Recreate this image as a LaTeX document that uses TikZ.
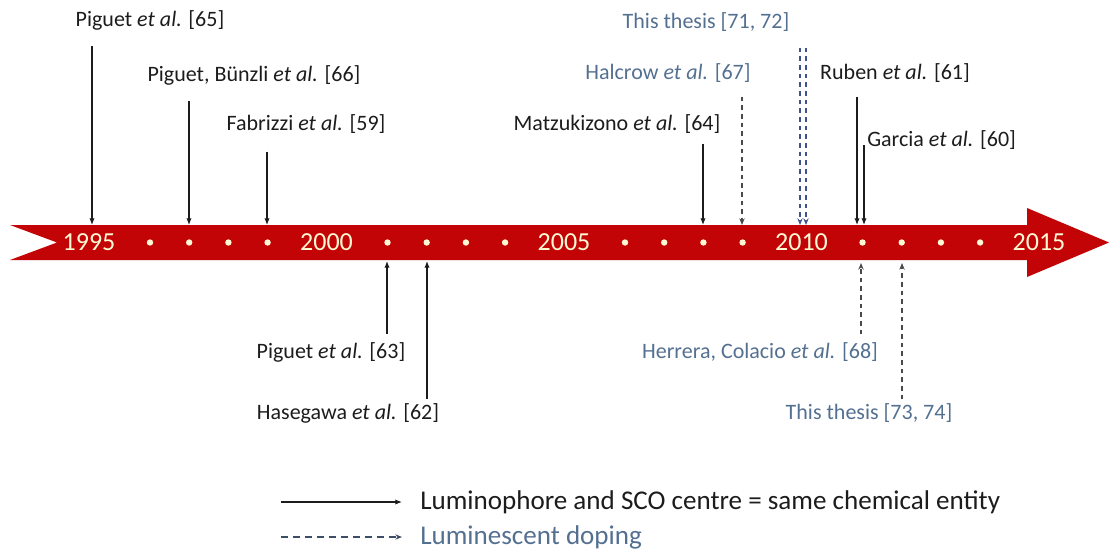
\documentclass[tikz,border=0pt]{standalone}
\usepackage{fontspec}
\setmainfont{Carlito}
\definecolor{bandred}{RGB}{194, 4, 6}
\definecolor{yearcream}{RGB}{255, 248, 212}
\definecolor{dopeblue}{RGB}{84, 112, 145}
\definecolor{thesisnavy}{RGB}{62, 82, 140}
\definecolor{inkgrey}{RGB}{28, 28, 28}
\usetikzlibrary{arrows.meta, positioning, calc}

\tikzset{
  lbl/.style={font=\fontsize{16.5}{19}\selectfont, text=inkgrey, inner sep=0pt},
  doplbl/.style={lbl, text=dopeblue},
  keylbl/.style={font=\fontsize{20.3}{24}\selectfont, text=inkgrey, inner sep=0pt, anchor=west},
  yearlbl/.style={font=\fontsize{19.5}{22}\selectfont, text=yearcream, inner sep=0pt},
  same/.style={draw=inkgrey, line width=0.9pt, -{Latex[length=5pt, width=4pt]}},
  dope/.style={draw=inkgrey!80, line width=0.8pt, dash pattern=on 3.5pt off 3pt, -{Stealth[length=5pt, width=4pt]}},
}

\begin{document}
\begin{tikzpicture}[x=0.75pt, y=-0.75pt]
  \useasboundingbox (0,0) rectangle (1109,550);

  \fill[bandred] (10,225) -- (1027,225) -- (1027,208) -- (1109,242.5) -- (1027,277)
    -- (1027,260) -- (10,260) -- (57,242.5) -- cycle;
  \foreach \yr [count=\i from 0] in {1995,2000,2005,2010,2015}
    \node[yearlbl] (y\yr) at (89+237.5*\i, 242.5) {\yr};
  \foreach \i in {0,...,3}
    \foreach \j in {0,...,3}
      \fill[yearcream] (150+237.5*\i+39.2*\j, 242.5) circle (2.4pt);

  \coordinate (e65) at (92,225);
  \coordinate (e66) at (189,225);
  \coordinate (e59) at (267,225);
  \coordinate (e64) at (703,225);
  \coordinate (e67) at (742,225);
  \coordinate (e71) at (803,225);
  \coordinate (e61) at (857,225);
  \coordinate (e60) at (864,225);
  \coordinate (e63) at (387,261);
  \coordinate (e62) at (427,261);
  \coordinate (e68) at (861,263);
  \coordinate (e73) at (902,263);

  \node[lbl] (p65) at (150,20) {Piguet \textit{et al.} [65]};
  \node[lbl] (p66) at (254,75) {Piguet, Bünzli \textit{et al.} [66]};
  \node[lbl] (f59) at (306,124) {Fabrizzi \textit{et al.} [59]};
  \node[lbl] (m64) at (617,124) {Matzukizono \textit{et al.} [64]};
  \node[doplbl] (h67) at (668,73) {Halcrow \textit{et al.} [67]};
  \node[doplbl] (t71) at (706,22) {This thesis [71, 72]};
  \node[lbl] (r61) at (895,73) {Ruben \textit{et al.} [61]};
  \node[lbl, anchor=west] (g60) at (867,140) {Garcia \textit{et al.} [60]};
  \node[lbl] (p63) at (331,352) {Piguet \textit{et al.} [63]};
  \node[lbl] (h62) at (348,413) {Hasegawa \textit{et al.} [62]};
  \node[doplbl] (c68) at (760,352) {Herrera, Colacio \textit{et al.} [68]};
  \node[doplbl] (t73) at (869,413) {This thesis [73, 74]};

  \draw[same] ($(p65.south -| e65)+(0,16)$) -- (e65);
  \draw[same] ($(p66.south -| e66)+(0,16)$) -- (e66);
  \draw[same] ($(f59.south -| e59)+(0,18)$) -- (e59);
  \draw[same] ($(m64.south -| e64)+(0,10)$) -- (e64);
  \draw[dope] ($(h67.south -| e67)+(0,14)$) -- (e67);
  \foreach \dx in {-3,3}
    \draw[dope, draw=thesisnavy] ($(t71.south -| e71)+(\dx,16)$) -- ($(e71)+(\dx,0)$);
  \draw[same] ($(r61.south -| e61)+(0,14)$) -- (e61);
  \draw[same] ($(g60.west -| e60)+(0,5)$) -- (e60);
  \draw[same] ($(p63.north -| e63)+(0,-8)$) -- (e63);
  \draw[same] ($(h62.north -| e62)+(0,-4)$) -- (e62);
  \draw[dope] ($(c68.north -| e68)+(0,-8)$) -- (e68);
  \draw[dope] ($(t73.north -| e73)+(0,-4)$) -- (e73);

  \coordinate (k1) at (281,502);
  \coordinate (k1e) at (402,502);
  \coordinate (k2) at (281,537);
  \coordinate (k2e) at (402,537);
  \node[keylbl] (lg1) at (420,502) {Luminophore and SCO centre = same chemical entity};
  \node[keylbl, text=dopeblue] (lg2) at (420,537) {Luminescent doping};
  \draw[same] (k1) -- (k1e);
  \draw[dope, draw=dopeblue!70!black, dash pattern=on 5pt off 4pt] (k2) -- (k2e);
\end{tikzpicture}
\end{document}
